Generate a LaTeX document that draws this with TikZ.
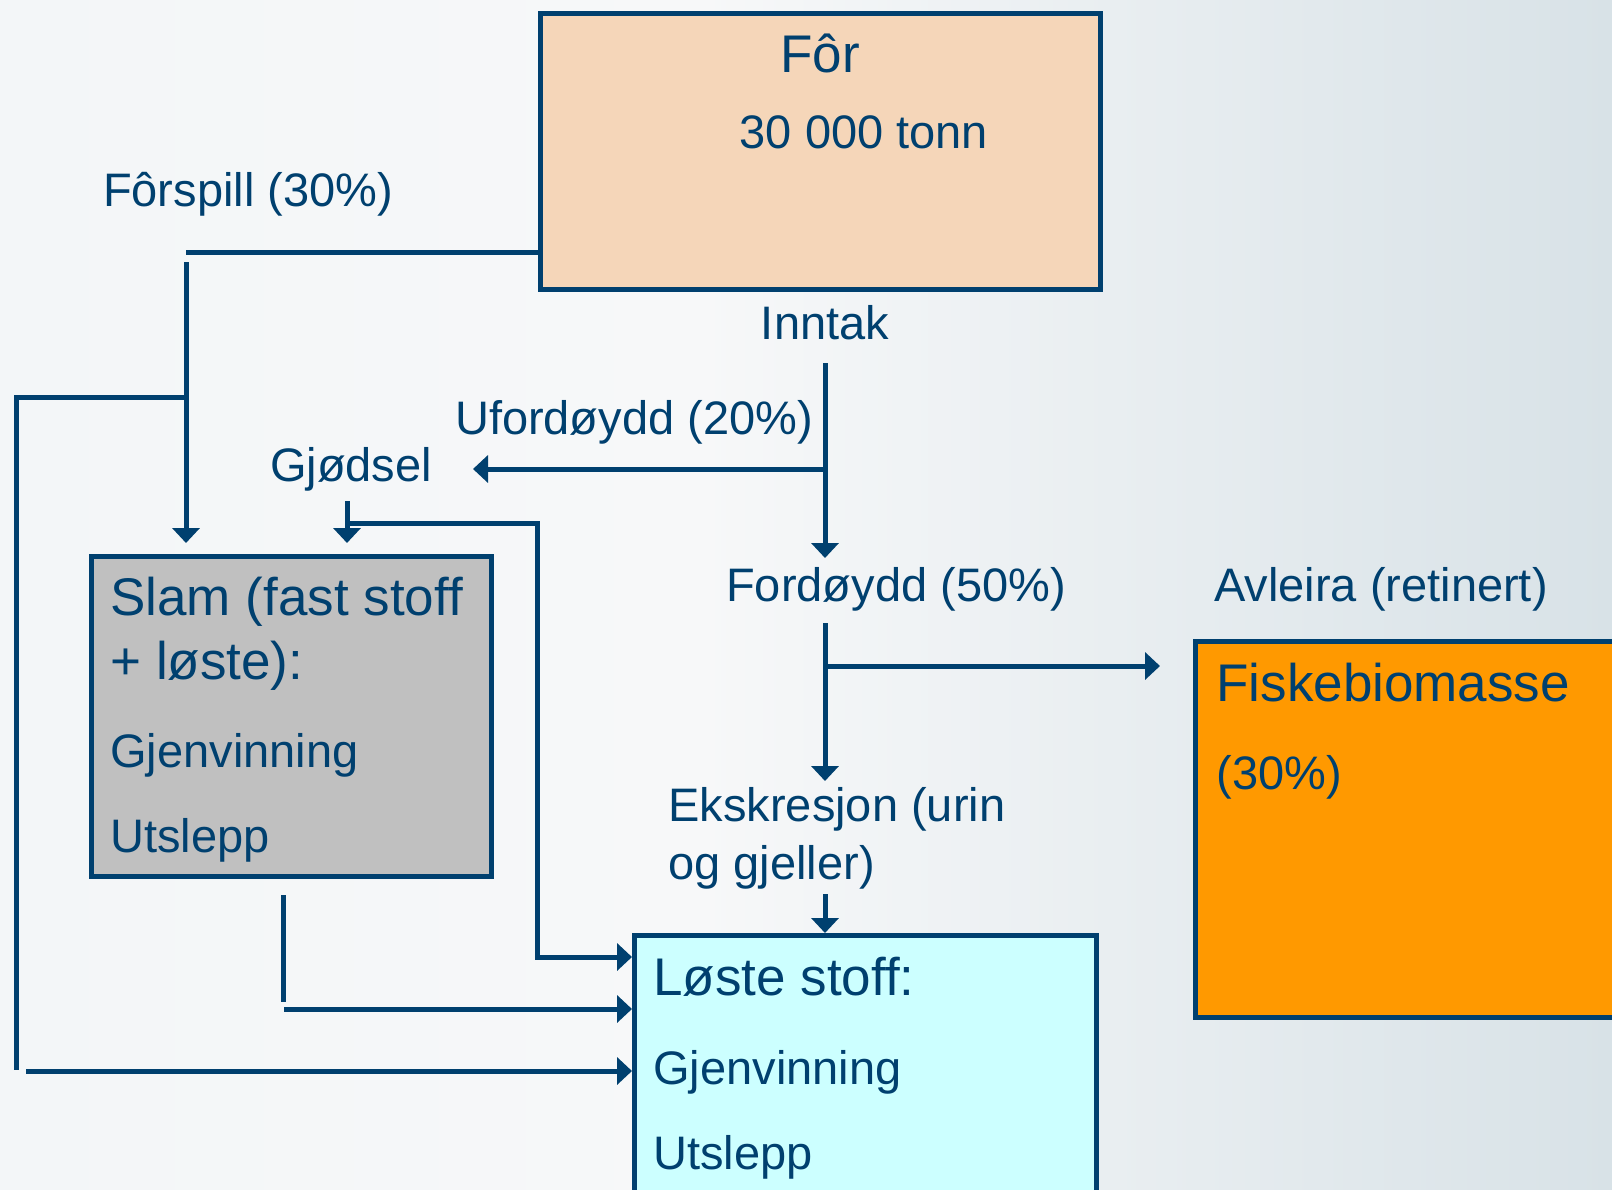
\documentclass[tikz,border=0pt]{standalone}
\usepackage{fontspec}
\setmainfont{Liberation Sans}
\usetikzlibrary{arrows.meta}
\definecolor{ink}{HTML}{00406F}
\definecolor{bgL}{HTML}{F3F6F8}
\definecolor{bgM}{HTML}{F7F8F9}
\definecolor{bgR}{HTML}{D8E2E7}
\definecolor{peach}{HTML}{F5D6B9}
\definecolor{slamgray}{HTML}{C0C0C0}
\definecolor{fishorange}{HTML}{FF9900}
\definecolor{lightcyan}{HTML}{CCFFFF}
\newcommand\fsm{\fontsize{23.5}{28}\selectfont}
\newcommand\fbg{\fontsize{26.5}{32}\selectfont}
\begin{document}
\begin{tikzpicture}[x=0.5pt,y=-0.5pt,
  conn/.style={draw=ink, line width=2.5pt},
  arr/.style={conn, -{Triangle[width=13.5pt,length=7.5pt]}},
  box/.style={draw=ink, line width=2.4pt, inner sep=0pt, anchor=north west},
  lab/.style={text=ink, font=\fsm, inner sep=0pt, anchor=base},
  labl/.style={lab, anchor=base west},
  bigl/.style={labl, font=\fbg}]
\useasboundingbox (0,0) rectangle (1612,1189);
\clip (0,0) rectangle (1612,1189);
\shade[left color=bgL, right color=bgM] (0,0) rectangle (701,1189);
\shade[left color=bgM, right color=bgR] (700,0) rectangle (1612,1189);

% boxes
\node[box, fill=peach, minimum width=280pt, minimum height=138pt] (for) at (538,11) {};
\node[box, fill=slamgray, minimum width=200pt, minimum height=160pt] (slam) at (89,554) {};
\node[box, fill=fishorange, minimum width=230pt, minimum height=188pt] (fisk) at (1193,639) {};
\node[box, fill=lightcyan, minimum width=231pt, minimum height=150pt] (loste) at (632,933) {};

% texts
\node[lab, font=\fbg] (tFor) at (820,72) {Fôr};
\node[lab] (tTonn) at (864,148) {30 000 tonn};
\node[lab] (tSpill) at (248,206) {Fôrspill (30\%)};
\node[lab] (tInntak) at (825,339) {Inntak};
\node[lab] (tUford) at (634,434) {Ufordøydd (20\%)};
\node[lab] (tGjod) at (351,481) {Gjødsel};
\node[lab] (tFord) at (896,601) {Fordøydd (50\%)};
\node[lab] (tAvl) at (1381,601) {Avleira (retinert)};
\node[labl] (tEks1) at (668,821) {Ekskresjon (urin};
\node[labl] (tEks2) at (668,879) {og gjeller)};
\node[bigl] (tSlam1) at (110,615) {Slam (fast stoff};
\node[bigl] (tSlam2) at (110,679) {+ løste):};
\node[labl] (tSlam3) at (110,767) {Gjenvinning};
\node[labl] (tSlam4) at (110,852) {Utslepp};
\node[bigl] (tFisk1) at (1216,701) {Fiskebiomasse};
\node[labl] (tFisk2) at (1216,789) {(30\%)};
\node[bigl] (tLos1) at (653,995) {Løste stoff:};
\node[labl] (tLos2) at (653,1084) {Gjenvinning};
\node[labl] (tLos3) at (653,1169) {Utslepp};

% connector coordinates
\coordinate (fsA) at (186,252);
\coordinate (fsB) at (186,262);
\coordinate (lpA) at (186,397);
\coordinate (lpB) at (16,397);
\coordinate (lpC) at (16,1070);
\coordinate (lpD) at (26,1071);
\coordinate (inA) at (825,363);
\coordinate (inB) at (825,558);
\coordinate (ufA) at (825,469);
\coordinate (ufB) at (473,469);
\coordinate (gjA) at (347,501);
\coordinate (gjC) at (347,523);
\coordinate (gjD) at (537,523);
\coordinate (gjE) at (537,957);
\coordinate (sbA) at (283,895);
\coordinate (sbB) at (283,1002);
\coordinate (sbC) at (284,1009);
\coordinate (fdA) at (825,623);
\coordinate (fdB) at (825,781);
\coordinate (fdC) at (825,666);
\coordinate (ekA) at (825,894);

% connectors
\draw[conn] (for.west |- fsA) -- (fsA);
\draw[arr, shorten >=5.5pt] (fsB) -- (slam.north -| fsB);
\draw[conn] (lpA) -- (lpB) -- (lpC);
\draw[arr] (lpD) -- (loste.west |- lpD);
\draw[arr] (inA) -- (inB);
\draw[arr] (ufA) -- (ufB);
\draw[arr, shorten >=5.5pt] (gjA) -- (slam.north -| gjA);
\draw[arr] (gjC) -- (gjD) -- (gjE) -- (loste.west |- gjE);
\draw[conn] (sbA) -- (sbB);
\draw[arr] (sbC) -- (loste.west |- sbC);
\draw[arr] (fdA) -- (fdB);
\draw[arr, shorten >=16.5pt] (fdC) -- (fisk.west |- fdC);
\draw[arr] (ekA) -- (loste.north -| ekA);
\end{tikzpicture}
\end{document}
